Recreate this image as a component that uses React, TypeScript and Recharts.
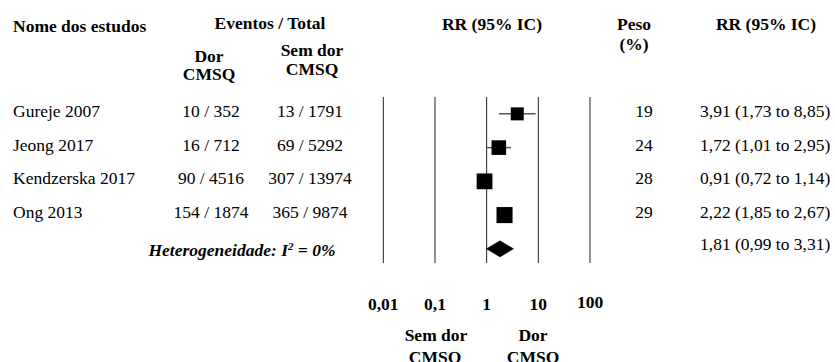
import React from 'react';
import {
    ComposedChart,
    Scatter,
    Area,
    XAxis,
    YAxis,
    CartesianGrid,
    ErrorBar,
    Customized
} from 'recharts';

const serif = "'Liberation Serif', 'Times New Roman', serif";

// study rows
const studies = ['Gureje 2007', 'Jeong 2017', 'Kendzerska 2017', 'Ong 2013'];
const eventsPain = ['10 / 352', '16 / 712', '90 / 4516', '154 / 1874'];
const eventsNoPain = ['13 / 1791', '69 / 5292', '307 / 13974', '365 / 9874'];
const rr = [3.91, 1.72, 0.91, 2.22];
const ciLow = [1.73, 1.01, 0.72, 1.85];
const ciHigh = [8.85, 2.95, 1.14, 2.67];
const weights = [19, 24, 28, 29];

// pooled estimate
const pooledRR = 1.81;
const pooledLow = 0.99;
const pooledHigh = 3.31;

const xTicks = [0.01, 0.1, 1, 10, 100];
const xTickLabels = ['0,01', '0,1', '1', '10', '100'];

const pooledRow = studies.length;
const rowTicks = [...studies.map((_, i) => i), pooledRow];

const fmt = (v: number) => v.toFixed(2).replace('.', ',');
const ciText = (m: number, lo: number, hi: number) => `${fmt(m)} (${fmt(lo)} to ${fmt(hi)})`;

const studyData = studies.map((name, i) => ({
    name,
    x: rr[i],
    y: i,
    err: [rr[i] - ciLow[i], ciHigh[i] - rr[i]],
    weight: weights[i],
}));

// diamond drawn as a range area: zero thickness at the CI ends, full at the estimate
const diamondData = [
    { x: pooledLow, band: [pooledRow, pooledRow] },
    { x: pooledRR, band: [pooledRow - 0.24, pooledRow + 0.24] },
    { x: pooledHigh, band: [pooledRow, pooledRow] },
];

const txt = { fontFamily: serif, fontSize: 17.5, fill: '#000' };

const WeightSquare = (props: any) => {
    const { cx, cy, payload } = props;
    const side = 2.98 * Math.sqrt(payload.weight);
    return <rect x={cx - side / 2} y={cy - side / 2} width={side} height={side} fill="#000" />;
};

const RowTick = ({ y, payload }: any) => {
    const i = payload.value;
    if (i === pooledRow) {
        return (
            <g>
                <text {...txt} x={242} y={y + 7} textAnchor="middle" fontWeight="bold" fontStyle="italic">
                    Heterogeneidade: I<tspan fontSize={11} dy={-6}>2</tspan>
                    <tspan dy={6}> = 0%</tspan>
                </text>
                <text {...txt} x={700} y={y + 1}>{ciText(pooledRR, pooledLow, pooledHigh)}</text>
            </g>
        );
    }
    const base = y + 3;
    return (
        <g>
            <text {...txt} x={13} y={base}>{studies[i]}</text>
            <text {...txt} x={211} y={base} textAnchor="middle">{eventsPain[i]}</text>
            <text {...txt} x={310} y={base} textAnchor="middle">{eventsNoPain[i]}</text>
            <text {...txt} x={644} y={base} textAnchor="middle">{weights[i]}</text>
            <text {...txt} x={700} y={base}>{ciText(rr[i], ciLow[i], ciHigh[i])}</text>
        </g>
    );
};

const ScaleTick = ({ x, y, payload }: any) => {
    const label = xTickLabels[xTicks.indexOf(payload.value)];
    return (
        <text {...txt} x={x} y={y + (payload.value === 100 ? 44.5 : 47)} textAnchor="middle" fontWeight="bold">
            {label}
        </text>
    );
};

const Headers = () => (
    <g>
        <text {...txt} fontWeight="bold" x={13} y={32}>Nome dos estudos</text>
        <text {...txt} fontWeight="bold" x={270} y={28.5} textAnchor="middle">Eventos / Total</text>
        <text {...txt} fontWeight="bold" x={209} y={62} textAnchor="middle">Dor</text>
        <text {...txt} fontWeight="bold" x={209} y={79.5} textAnchor="middle">CMSQ</text>
        <text {...txt} fontWeight="bold" x={312} y={56} textAnchor="middle">Sem dor</text>
        <text {...txt} fontWeight="bold" x={312} y={75} textAnchor="middle">CMSQ</text>
        <text {...txt} fontWeight="bold" x={492} y={30} textAnchor="middle">RR (95% IC)</text>
        <text {...txt} fontWeight="bold" x={634} y={30} textAnchor="middle">Peso</text>
        <text {...txt} fontWeight="bold" x={634} y={50} textAnchor="middle">(%)</text>
        <text {...txt} fontWeight="bold" x={766} y={30} textAnchor="middle">RR (95% IC)</text>
        <text {...txt} fontWeight="bold" x={436} y={341} textAnchor="middle">Sem dor</text>
        <text {...txt} fontWeight="bold" x={435} y={362.5} textAnchor="middle">CMSQ</text>
        <text {...txt} fontWeight="bold" x={533} y={341} textAnchor="middle">Dor</text>
        <text {...txt} fontWeight="bold" x={533} y={362.5} textAnchor="middle">CMSQ</text>
    </g>
);

export default function App() {
    return (
        <div style={{ position: 'absolute', left: 0, top: 0, width: 835, height: 362, background: '#fff' }}>
            <ComposedChart
                width={835}
                height={362}
                margin={{ top: 97, right: 245, bottom: 59, left: 13.3 }}
            >
                <CartesianGrid horizontal={false} stroke="#222" strokeWidth={1} />
                <XAxis
                    dataKey="x"
                    type="number"
                    scale="log"
                    domain={[0.01, 100]}
                    ticks={xTicks}
                    allowDataOverflow
                    axisLine={false}
                    tickLine={false}
                    tickSize={0}
                    tickMargin={0}
                    height={40}
                    interval={0}
                    tick={<ScaleTick />}
                />
                <YAxis
                    dataKey="y"
                    type="number"
                    domain={[-0.5, 4.42]}
                    reversed
                    ticks={rowTicks}
                    allowDataOverflow
                    axisLine={false}
                    tickLine={false}
                    width={370}
                    interval={0}
                    tick={<RowTick />}
                />
                <Area
                    data={diamondData}
                    dataKey="band"
                    type="linear"
                    fill="#000"
                    fillOpacity={1}
                    stroke="#000"
                    strokeWidth={0.5}
                    dot={false}
                    activeDot={false}
                    isAnimationActive={false}
                />
                <Scatter data={studyData} shape={<WeightSquare />} isAnimationActive={false}>
                    <ErrorBar dataKey="err" direction="x" width={0} stroke="#555" strokeWidth={1.5} />
                </Scatter>
                <Customized component={<Headers />} />
            </ComposedChart>
        </div>
    );
}
